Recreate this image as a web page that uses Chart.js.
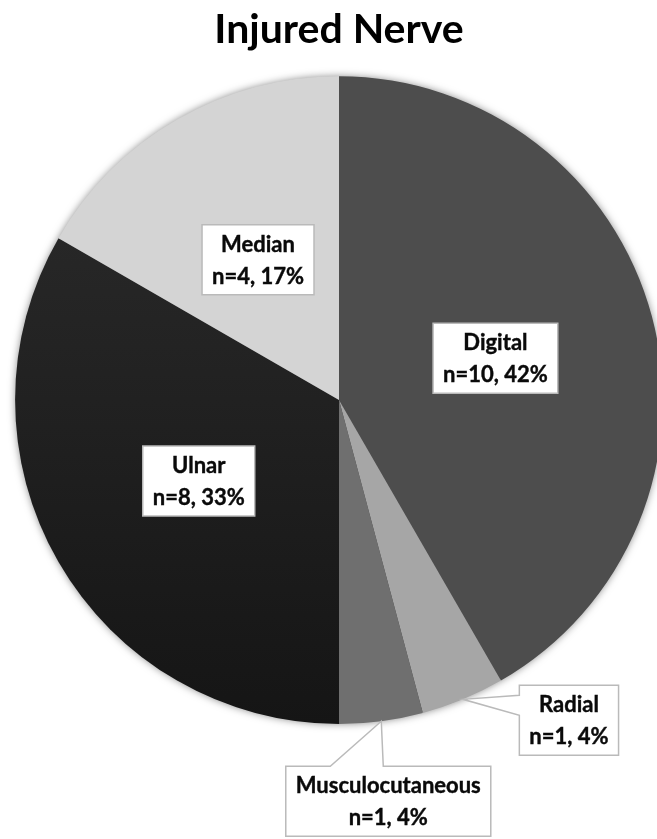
<!DOCTYPE html>
<html lang="en">
<head>
<meta charset="UTF-8">
<title>Injured Nerve</title>
<script src="https://cdn.jsdelivr.net/npm/chart.js@4.4.0/dist/chart.umd.min.js"></script>
<style>
    html, body { margin: 0; padding: 0; background: #fff; overflow: hidden; }
    .grafico { position: relative; width: 680px; height: 839px; }
</style>
</head>
<body>
<div class="grafico">
    <canvas id="chartNervo"></canvas>
</div>

<script>
    // dados
    var nervos = ['Digital', 'Radial', 'Musculocutaneous', 'Ulnar', 'Median'];
    var casos = [10, 1, 1, 8, 4];
    var cores = ['#4d4d4d', '#a6a6a6', '#6f6f6f', '#222222', '#d4d4d4'];
    var posicaoRotulo = ['inside', 'outside', 'outside', 'inside', 'inside'];

    var total = casos.reduce(function (a, b) { return a + b; }, 0);
    var percentuais = casos.map(function (v) { return Math.round(v / total * 100); });

    // onde ficam as caixas dos rotulos de fora (relativo a ponta na borda)
    var deslocamento = {
        1: { dx: 106, dy: 21, base: [-4, 16] },
        2: { dx: 7, dy: 80, base: [-51, 2] }
    };

    var pluginSombra = {
        id: 'sombra',
        beforeDatasetsDraw: function (chart) {
            var arc = chart.getDatasetMeta(0).data[0];
            if (!arc) return;
            var ctx = chart.ctx;
            ctx.save();
            ctx.shadowColor = 'rgba(0,0,0,0.55)';
            ctx.shadowBlur = 8;
            ctx.fillStyle = '#444';
            ctx.beginPath();
            ctx.arc(arc.x, arc.y, arc.outerRadius - 1, 0, Math.PI * 2);
            ctx.fill();
            ctx.restore();
        }
    };

    var pluginRotulos = {
        id: 'rotulos',
        afterDatasetsDraw: function (chart) {
            var ctx = chart.ctx;
            var meta = chart.getDatasetMeta(0);
            var padX = 10, padY = 3, entreLinhas = 32;
            ctx.save();
            ctx.font = 'bold 22px Lato';
            ctx.textAlign = 'center';
            ctx.textBaseline = 'middle';

            meta.data.forEach(function (arc, i) {
                var linhas = [nervos[i], 'n=' + casos[i] + ', ' + percentuais[i] + '%'];
                var larg = Math.max(ctx.measureText(linhas[0]).width, ctx.measureText(linhas[1]).width) + 2 * padX;
                var alt = linhas.length * entreLinhas + 2 * padY;
                var cx, cy, ponta = null;

                if (posicaoRotulo[i] === 'inside') {
                    var p = arc.tooltipPosition();
                    cx = p.x; cy = p.y;
                } else {
                    var meio = (arc.startAngle + arc.endAngle) / 2;
                    ponta = {
                        x: arc.x + Math.cos(meio) * arc.outerRadius,
                        y: arc.y + Math.sin(meio) * arc.outerRadius
                    };
                    cx = ponta.x + deslocamento[i].dx;
                    cy = ponta.y + deslocamento[i].dy;
                }

                var L = cx - larg / 2, R = cx + larg / 2, T = cy - alt / 2, B = cy + alt / 2;

                ctx.beginPath();
                if (ponta && ponta.x < L) {
                    var b = deslocamento[i].base;
                    ctx.moveTo(L, T); ctx.lineTo(R, T); ctx.lineTo(R, B); ctx.lineTo(L, B);
                    ctx.lineTo(L, ponta.y + b[1]);
                    ctx.lineTo(ponta.x, ponta.y);
                    ctx.lineTo(L, ponta.y + b[0]);
                    ctx.closePath();
                } else if (ponta && ponta.y < T) {
                    var b2 = deslocamento[i].base;
                    ctx.moveTo(L, T);
                    ctx.lineTo(ponta.x + b2[0], T);
                    ctx.lineTo(ponta.x, ponta.y);
                    ctx.lineTo(ponta.x + b2[1], T);
                    ctx.lineTo(R, T); ctx.lineTo(R, B); ctx.lineTo(L, B);
                    ctx.closePath();
                } else {
                    ctx.rect(L, T, larg, alt);
                }
                ctx.fillStyle = '#ffffff';
                ctx.fill();
                ctx.lineWidth = 1.5;
                ctx.strokeStyle = '#bababa';
                ctx.stroke();

                ctx.fillStyle = '#0a0a0a';
                ctx.strokeStyle = '#0a0a0a';
                ctx.lineWidth = 0.4;
                linhas.forEach(function (txt, k) {
                    var ty = cy - entreLinhas / 2 + k * entreLinhas + 1;
                    ctx.fillText(txt, cx, ty);
                    ctx.strokeText(txt, cx, ty);
                });
            });
            ctx.restore();
        }
    };

    function carregarGrafico() {
        var dataNervo = {
            labels: nervos,
            datasets: [{
                data: casos,
                backgroundColor: function (c) {
                    var area = c.chart.chartArea;
                    if (!area || c.dataIndex !== 3) return cores[c.dataIndex];
                    var g = c.chart.ctx.createLinearGradient(0, area.top, 0, area.bottom);
                    g.addColorStop(0, '#2d2d2d');
                    g.addColorStop(1, '#151515');
                    return g;
                },
                borderWidth: 0,
                hoverOffset: 0,
                offset: 0
            }]
        };

        new Chart(document.getElementById('chartNervo'), {
            type: 'pie',
            data: dataNervo,
            options: {
                responsive: true,
                maintainAspectRatio: false,
                animation: false,
                layout: { padding: { left: 15, right: 17, top: 0, bottom: 115 } },
                plugins: {
                    legend: { display: false },
                    tooltip: { enabled: false },
                    title: {
                        display: true,
                        text: 'Injured Nerve',
                        color: '#000',
                        font: { family: 'Lato', size: 41, weight: 'bold', lineHeight: 1.2 },
                        padding: { top: 5, bottom: 22 }
                    }
                }
            },
            plugins: [pluginSombra, pluginRotulos]
        });
    }

    carregarGrafico();
</script>
</body>
</html>
